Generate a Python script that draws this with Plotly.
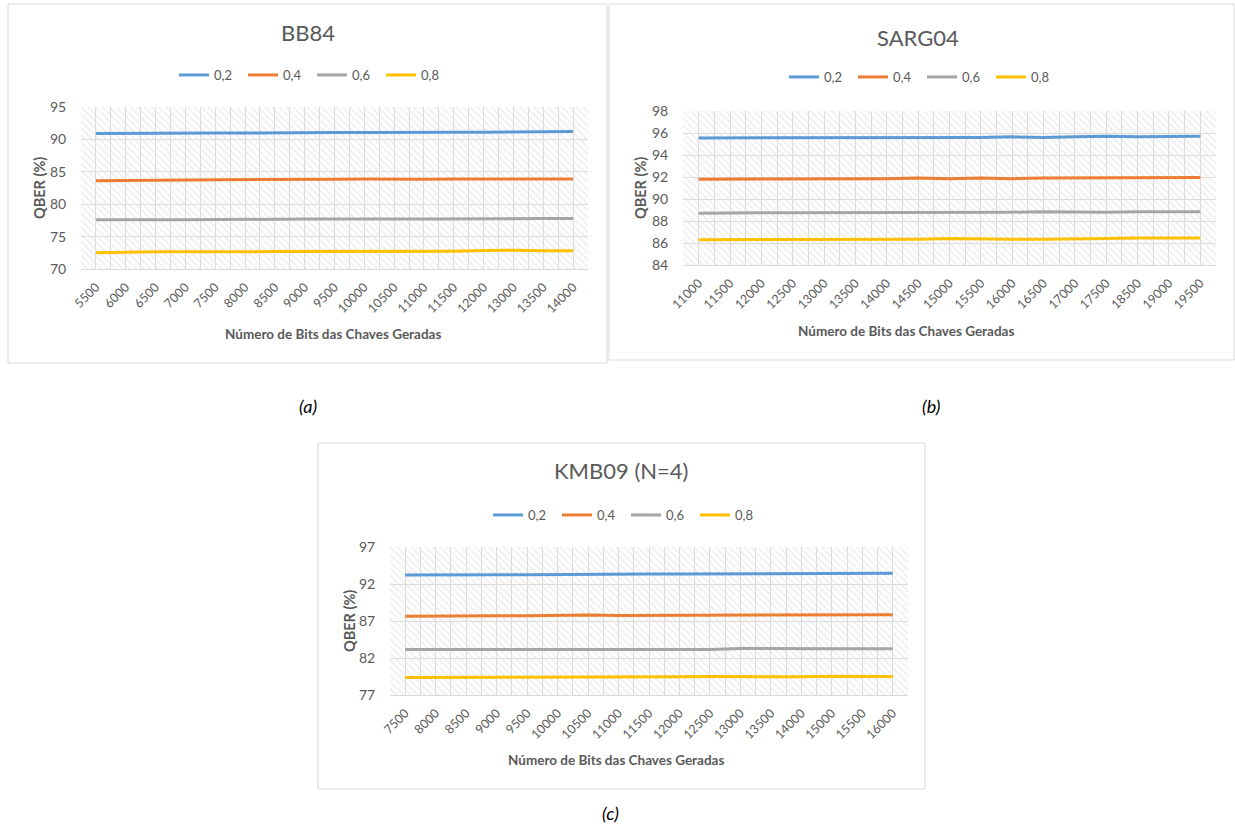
import plotly.graph_objects as go

# ---------------- data ----------------
series_names = ["0,2", "0,4", "0,6", "0,8"]

bb84_bits = ["5500", "6000", "6500", "7000", "7500", "8000", "8500", "9000", "9500",
             "10000", "10500", "11000", "11500", "12000", "13000", "13500", "14000"]
bb84_q02 = [90.9, 90.95, 90.95, 91.0, 91.0, 91.0, 91.05, 91.05, 91.05,
            91.05, 91.1, 91.1, 91.1, 91.1, 91.1, 91.1, 91.2]
bb84_q04 = [83.6, 83.7, 83.7, 83.75, 83.75, 83.8, 83.8, 83.75, 83.85,
            83.9, 83.85, 83.85, 83.9, 83.85, 83.9, 83.9, 83.9]
bb84_q06 = [77.6, 77.55, 77.6, 77.6, 77.65, 77.65, 77.7, 77.7, 77.7,
            77.65, 77.7, 77.7, 77.75, 77.8, 77.75, 77.8, 77.8]
bb84_q08 = [72.5, 72.6, 72.65, 72.65, 72.6, 72.65, 72.7, 72.7, 72.75,
            72.8, 72.8, 72.8, 72.75, 72.85, 72.9, 72.8, 72.8]

sarg_bits = ["11000", "11500", "12000", "12500", "13000", "13500", "14000", "14500", "15000",
             "15500", "16000", "16500", "17000", "17500", "18500", "19000", "19500"]
sarg_q02 = [95.55, 95.55, 95.55, 95.6, 95.55, 95.6, 95.55, 95.6, 95.6,
            95.6, 95.65, 95.6, 95.65, 95.7, 95.65, 95.65, 95.7]
sarg_q04 = [91.8, 91.8, 91.8, 91.85, 91.85, 91.8, 91.85, 91.9, 91.85,
            91.9, 91.85, 91.9, 91.9, 91.9, 91.95, 91.9, 91.95]
sarg_q06 = [88.7, 88.75, 88.75, 88.75, 88.75, 88.8, 88.75, 88.75, 88.75,
            88.8, 88.8, 88.85, 88.8, 88.8, 88.85, 88.85, 88.85]
sarg_q08 = [86.3, 86.3, 86.3, 86.35, 86.35, 86.3, 86.35, 86.35, 86.4,
            86.35, 86.35, 86.35, 86.35, 86.4, 86.45, 86.45, 86.45]

kmb_bits = ["7500", "8000", "8500", "9000", "9500", "10000", "10500", "11000", "11500",
            "12000", "12500", "13000", "13500", "14000", "15000", "15500", "16000"]
kmb_q02 = [93.2, 93.25, 93.25, 93.25, 93.25, 93.3, 93.3, 93.3, 93.35,
           93.35, 93.35, 93.4, 93.35, 93.35, 93.35, 93.4, 93.45]
kmb_q04 = [87.65, 87.7, 87.7, 87.7, 87.7, 87.8, 87.8, 87.75, 87.75,
           87.75, 87.8, 87.8, 87.8, 87.8, 87.85, 87.85, 87.85]
kmb_q06 = [83.15, 83.15, 83.15, 83.2, 83.2, 83.2, 83.25, 83.2, 83.2,
           83.2, 83.15, 83.3, 83.25, 83.2, 83.25, 83.25, 83.25]
kmb_q08 = [79.35, 79.35, 79.4, 79.4, 79.4, 79.45, 79.4, 79.45, 79.4,
           79.45, 79.5, 79.45, 79.45, 79.45, 79.55, 79.55, 79.5]

# ---------------- styling ----------------
W, H = 1235, 827
FONT = "Lato, 'Open Sans', sans-serif"
TXT = "#595959"
GRID = "#D9D9D9"
COLORS = ["#5B9BD5", "#ED7D31", "#A5A5A5", "#FFC000"]


def fx(px):
    return px / W


def fy(py):
    return 1 - py / H


panels = [
    dict(title="BB84", cats=bb84_bits, series=[bb84_q02, bb84_q04, bb84_q06, bb84_q08],
         yr=(70, 95), dt=5, plot=(81, 588, 107, 269), frame=(8, 607, 4, 363),
         title_xy=(308, 33), legend_xy=(174, 75), ytitle_x=40, xtitle_xy=(333, 334),
         caption="(a)", caption_xy=(308, 406)),
    dict(title="SARG04", cats=sarg_bits, series=[sarg_q02, sarg_q04, sarg_q06, sarg_q08],
         yr=(84, 98), dt=2, plot=(683, 1216, 111, 265), frame=(609, 1234, 4, 360),
         title_xy=(918, 37), legend_xy=(784, 77), ytitle_x=641, xtitle_xy=(906, 331),
         caption="(b)", caption_xy=(931, 406)),
    dict(title="KMB09 (N=4)", cats=kmb_bits, series=[kmb_q02, kmb_q04, kmb_q06, kmb_q08],
         yr=(77, 97), dt=5, plot=(390, 908, 547, 695), frame=(318, 925, 443, 789),
         title_xy=(621, 470), legend_xy=(488, 515), ytitle_x=349, xtitle_xy=(616, 760),
         caption="(c)", caption_xy=(610, 813)),
]

fig = go.Figure()
layout = dict(
    width=W, height=H, margin=dict(l=0, r=0, t=0, b=0, autoexpand=False),
    paper_bgcolor="white", plot_bgcolor="white",
    font=dict(family=FONT, color=TXT),
    showlegend=True,
)
annotations = []
shapes = []

for i, p in enumerate(panels, start=1):
    sfx = "" if i == 1 else str(i)
    xa, ya = "x" + sfx, "y" + sfx
    leg = "legend" + sfx
    n = len(p["cats"])
    idx = list(range(n))
    y0, y1 = p["yr"]
    l, r, t, b = p["plot"]

    # hatched plot-area background
    fig.add_trace(go.Scatter(
        x=[-0.5, n - 0.5, n - 0.5, -0.5, -0.5], y=[y0, y0, y1, y1, y0],
        xaxis=xa, yaxis=ya, mode="none", fill="toself",
        fillcolor="rgba(255,255,255,0)",
        fillpattern=dict(shape="\\", fgcolor="#E4E4E4", bgcolor="rgba(255,255,255,0)",
                         size=5, solidity=0.45),
        hoverinfo="skip", showlegend=False, legend=leg,
    ))

    for name, vals, col in zip(series_names, p["series"], COLORS):
        fig.add_trace(go.Scatter(
            x=idx, y=vals, xaxis=xa, yaxis=ya, mode="lines", name=name,
            line=dict(color=col, width=3), legend=leg,
        ))

    layout["xaxis" + sfx] = dict(
        domain=[fx(l), fx(r)], anchor=ya, range=[-0.5, n - 0.5],
        tickmode="array", tickvals=idx, ticktext=p["cats"], tickangle=-45,
        tickfont=dict(size=12.5, color=TXT, family=FONT),
        showgrid=True, gridcolor=GRID, gridwidth=1,
        minor=dict(tickmode="linear", tick0=-0.5, dtick=1, showgrid=True,
                   gridcolor=GRID, gridwidth=1, ticks=""),
        showline=True, linecolor=GRID, linewidth=1, zeroline=False,
        ticks="outside", ticklen=5, tickcolor="rgba(0,0,0,0)", fixedrange=True,
        automargin=False,
    )
    layout["yaxis" + sfx] = dict(
        domain=[fy(b), fy(t)], anchor=xa, range=[y0, y1],
        tickmode="linear", tick0=y0, dtick=p["dt"],
        tickfont=dict(size=14, color=TXT, family=FONT),
        showgrid=True, gridcolor=GRID, gridwidth=1, zeroline=False, showline=False,
        ticks="outside", ticklen=11, tickcolor="rgba(0,0,0,0)", fixedrange=True,
        automargin=False,
    )
    layout[leg] = dict(
        orientation="h", x=fx(p["legend_xy"][0]), y=fy(p["legend_xy"][1]),
        xanchor="left", yanchor="middle", bgcolor="rgba(0,0,0,0)",
        font=dict(size=13, color=TXT, family=FONT),
        entrywidth=24, entrywidthmode="pixels", itemwidth=30,
    )

    # chart frame
    fl, fr, ft, fb = p["frame"]
    shapes.append(dict(type="rect", xref="paper", yref="paper",
                       x0=fx(fl), x1=fx(fr), y0=fy(fb), y1=fy(ft),
                       line=dict(color=GRID, width=1), fillcolor="rgba(0,0,0,0)",
                       layer="below"))

    annotations += [
        dict(text=p["title"], x=fx(p["title_xy"][0]), y=fy(p["title_xy"][1]),
             xref="paper", yref="paper", showarrow=False, xanchor="center", yanchor="middle",
             font=dict(size=22, color=TXT, family=FONT)),
        dict(text="<b>QBER (%)</b>", x=fx(p["ytitle_x"]), y=fy((t + b) / 2),
             xref="paper", yref="paper", showarrow=False, textangle=-90,
             xanchor="center", yanchor="middle", font=dict(size=14.5, color=TXT, family=FONT)),
        dict(text="<b>Número de Bits das Chaves Geradas</b>",
             x=fx(p["xtitle_xy"][0]), y=fy(p["xtitle_xy"][1]),
             xref="paper", yref="paper", showarrow=False, xanchor="center", yanchor="middle",
             font=dict(size=13.5, color=TXT, family=FONT)),
        dict(text="<i>" + p["caption"] + "</i>", x=fx(p["caption_xy"][0]), y=fy(p["caption_xy"][1]),
             xref="paper", yref="paper", showarrow=False, xanchor="center", yanchor="middle",
             font=dict(size=18, color="#000000", family=FONT)),
    ]

layout["annotations"] = annotations
layout["shapes"] = shapes
fig.update_layout(**layout)
fig.write_html("out.html")
